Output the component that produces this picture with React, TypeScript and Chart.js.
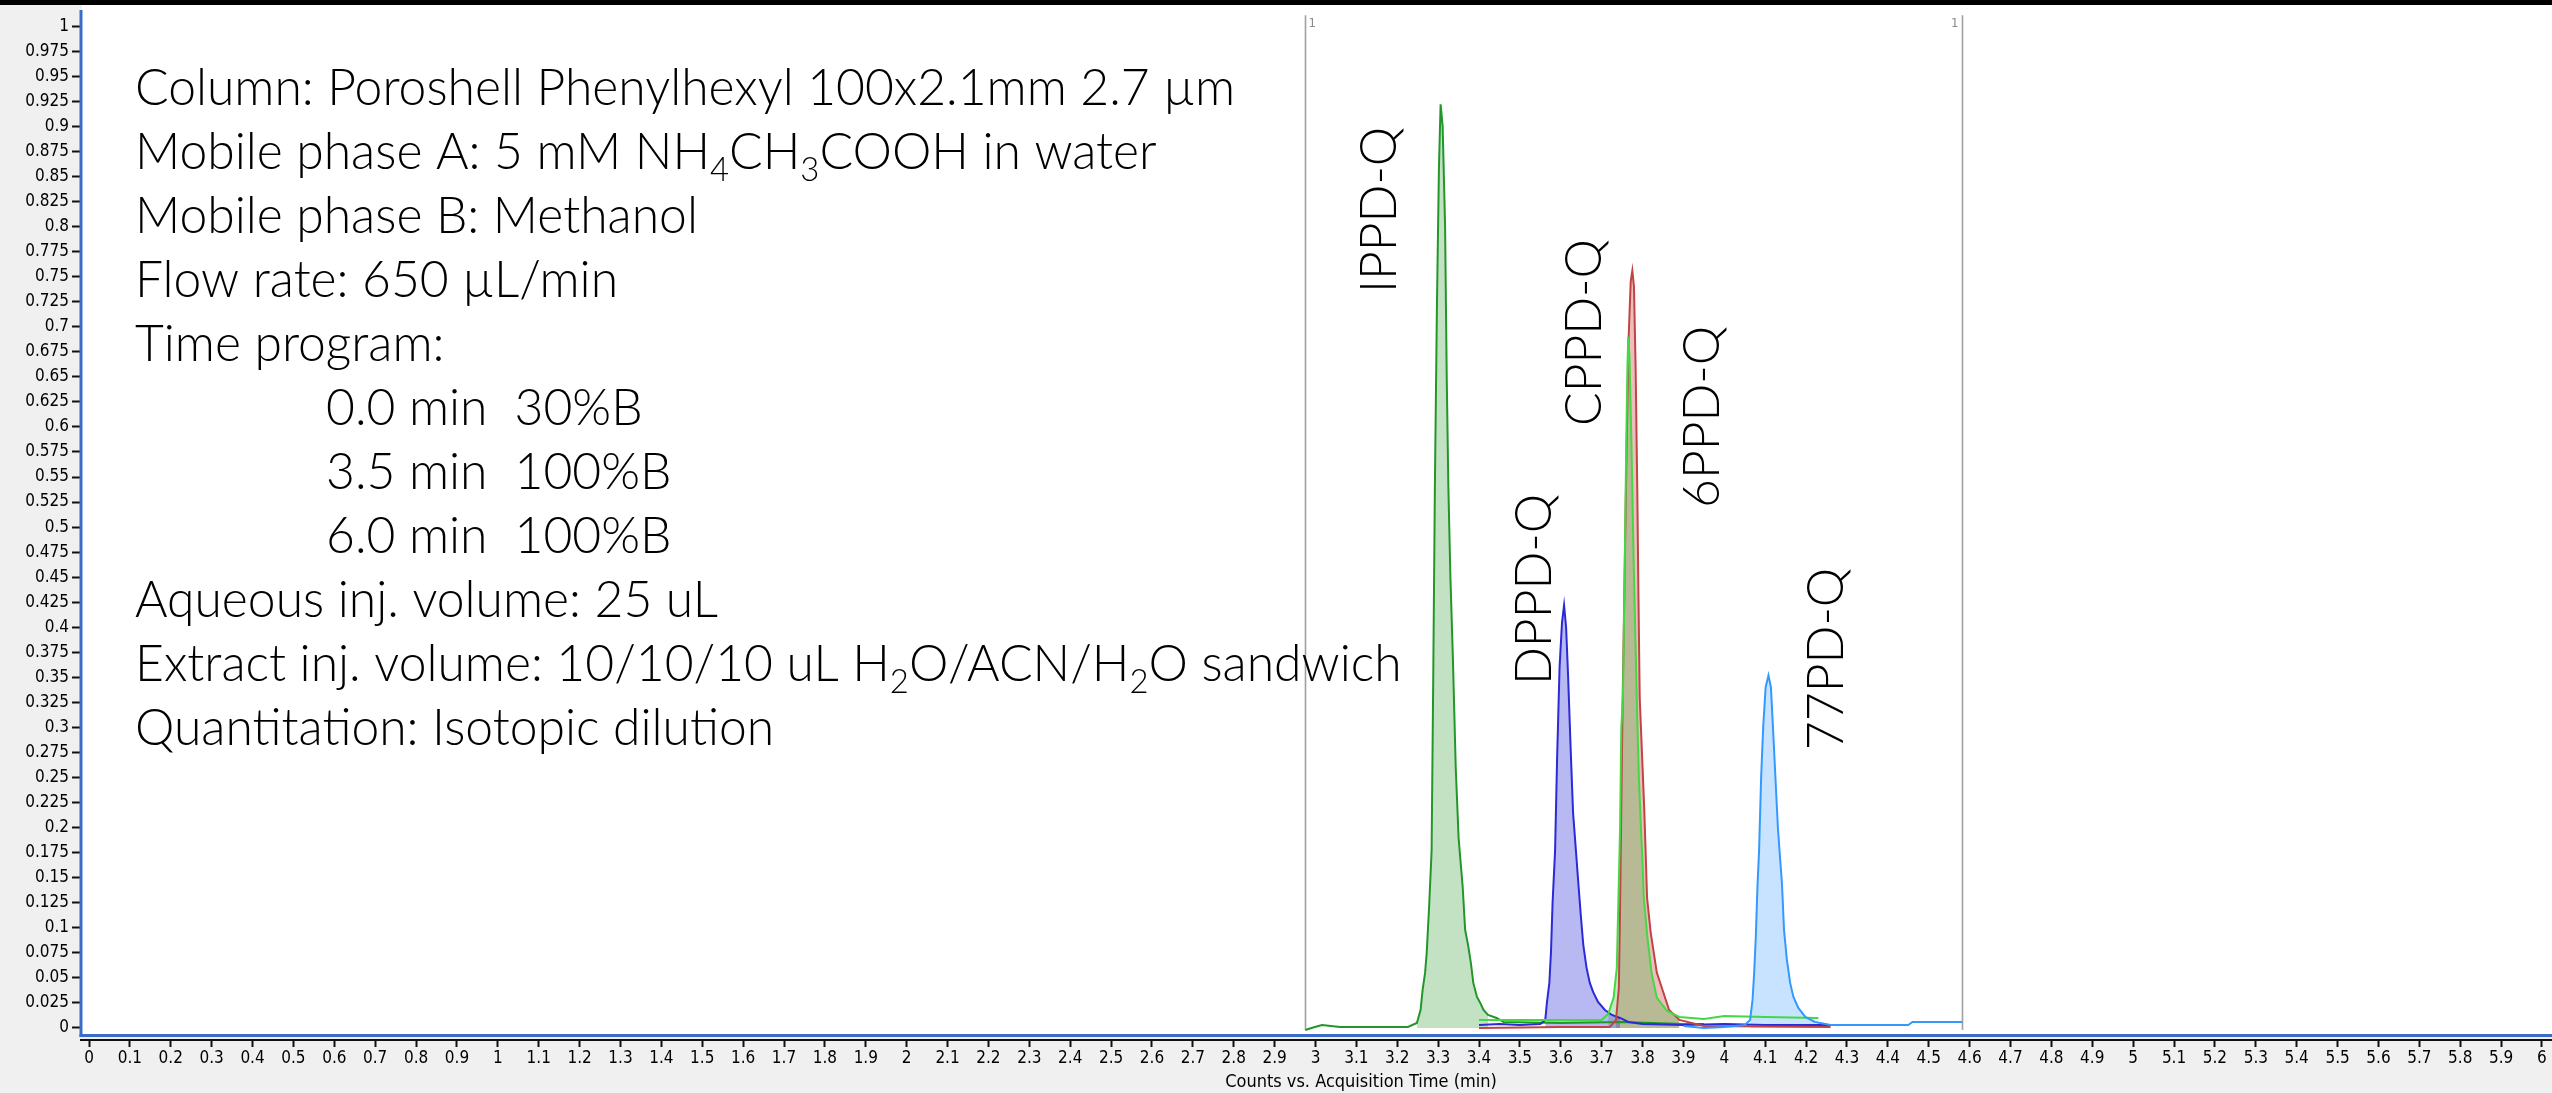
import React, { useEffect, useRef } from 'react';
import { Chart, registerables } from 'chart.js';

Chart.register(...registerables);

// ---------- data (retention time in min, normalised counts) ----------
const IPPD_T = [2.975, 2.99, 3.016, 3.06, 3.226, 3.248, 3.257, 3.262, 3.268, 3.272, 3.278, 3.284, 3.288, 3.292, 3.297, 3.302, 3.306, 3.311, 3.317, 3.321, 3.325, 3.33, 3.336, 3.343, 3.35, 3.354, 3.36, 3.366, 3.374, 3.38, 3.386, 3.395, 3.403, 3.411, 3.422, 3.443, 3.46, 3.6, 3.75, 3.9, 3.95];
const IPPD_Y = [-0.002, 0.0, 0.003, 0.001, 0.001, 0.005, 0.018, 0.038, 0.055, 0.075, 0.122, 0.177, 0.35, 0.54, 0.72, 0.86, 0.922, 0.9, 0.8, 0.65, 0.54, 0.45, 0.37, 0.26, 0.19, 0.17, 0.141, 0.098, 0.081, 0.065, 0.045, 0.031, 0.025, 0.018, 0.013, 0.01, 0.006, 0.005, 0.006, 0.004, 0.004];

const DPPD_T = [3.4, 3.45, 3.5, 3.55, 3.562, 3.566, 3.572, 3.576, 3.58, 3.586, 3.591, 3.597, 3.603, 3.608, 3.613, 3.618, 3.624, 3.63, 3.637, 3.643, 3.649, 3.655, 3.663, 3.671, 3.679, 3.691, 3.708, 3.725, 3.745, 3.765, 3.8, 3.9, 4.0, 4.1, 4.27];
const DPPD_Y = [0.003, 0.004, 0.003, 0.004, 0.008, 0.025, 0.045, 0.076, 0.126, 0.177, 0.27, 0.36, 0.405, 0.422, 0.4, 0.35, 0.28, 0.215, 0.177, 0.144, 0.112, 0.083, 0.06, 0.045, 0.036, 0.026, 0.018, 0.013, 0.01, 0.006, 0.004, 0.003, 0.004, 0.003, 0.003];

const CPPD_T = [3.4, 3.55, 3.7, 3.716, 3.729, 3.737, 3.741, 3.745, 3.748, 3.752, 3.756, 3.76, 3.763, 3.765, 3.768, 3.773, 3.778, 3.783, 3.787, 3.791, 3.796, 3.8, 3.803, 3.812, 3.822, 3.835, 3.86, 3.89, 3.95, 4.0, 4.1, 4.23];
const CPPD_Y = [0.008, 0.008, 0.008, 0.014, 0.03, 0.06, 0.13, 0.2, 0.3, 0.33, 0.45, 0.58, 0.66, 0.69, 0.67, 0.58, 0.47, 0.38, 0.31, 0.25, 0.2, 0.165, 0.13, 0.09, 0.055, 0.03, 0.017, 0.011, 0.009, 0.012, 0.011, 0.01];

const SIXPPD_T = [3.4, 3.6, 3.72, 3.735, 3.742, 3.745, 3.748, 3.751, 3.756, 3.761, 3.766, 3.771, 3.775, 3.779, 3.783, 3.787, 3.79, 3.793, 3.799, 3.804, 3.808, 3.811, 3.82, 3.835, 3.865, 3.89, 3.95, 4.26];
const SIXPPD_Y = [0.0, 0.001, 0.001, 0.008, 0.04, 0.12, 0.22, 0.32, 0.45, 0.58, 0.69, 0.745, 0.756, 0.74, 0.66, 0.54, 0.43, 0.33, 0.27, 0.22, 0.17, 0.13, 0.095, 0.055, 0.018, 0.008, 0.002, 0.001];

const PD77_T = [3.9, 3.95, 4.0, 4.05, 4.063, 4.069, 4.073, 4.077, 4.081, 4.085, 4.09, 4.095, 4.101, 4.108, 4.114, 4.119, 4.125, 4.131, 4.135, 4.141, 4.146, 4.153, 4.161, 4.169, 4.181, 4.198, 4.222, 4.26, 4.45, 4.46, 4.582];
const PD77_Y = [0.002, 0.0, 0.001, 0.003, 0.008, 0.028, 0.055, 0.091, 0.141, 0.177, 0.25, 0.3, 0.34, 0.352, 0.34, 0.3, 0.25, 0.2, 0.177, 0.144, 0.098, 0.068, 0.045, 0.031, 0.02, 0.011, 0.006, 0.003, 0.003, 0.006, 0.006];

// integration windows (filled areas)
const IPPD_FILL = [3.245, 3.44];
const DPPD_FILL = [3.56, 3.75];
const CPPD_FILL = [3.71, 3.9];
const SIXPPD_FILL = [3.73, 3.9];
const PD77_FILL = [4.06, 4.24];

// time segment markers
const SEGMENT_MARKERS = [2.975, 4.582];
const SEGMENT_LABELS = ['1', '1'];

const X_TICKS = Array.from({ length: 61 }, (_, i) => i / 10);
const Y_TICKS = Array.from({ length: 41 }, (_, i) => i / 40);

const X_TITLE = 'Counts vs. Acquisition Time (min)';

const COMPOUNDS = ['IPPD-Q', 'DPPD-Q', 'CPPD-Q', '6PPD-Q', '77PD-Q'];

// annotation text (segments: [text, isSubscript])
const NOTE_LINES: [string, boolean][][] = [
  [['Column: Poroshell Phenylhexyl 100x2.1mm 2.7 µm', false]],
  [['Mobile phase A: 5 mM NH', false], ['4', true], ['CH', false], ['3', true], ['COOH in water', false]],
  [['Mobile phase B: Methanol', false]],
  [['Flow rate: 650 µL/min', false]],
  [['Time program:', false]],
  [['0.0 min  30%B', false]],
  [['3.5 min  100%B', false]],
  [['6.0 min  100%B', false]],
  [['Aqueous inj. volume: 25 uL', false]],
  [['Extract inj. volume: 10/10/10 uL H', false], ['2', true], ['O/ACN/H', false], ['2', true], ['O sandwich', false]],
  [['Quantitation: Isotopic dilution', false]],
];
const NOTE_INDENT = [0, 0, 0, 0, 0, 1, 1, 1, 0, 0, 0];

// ---------- layout / style ----------
const W = 2552;
const H = 1093;
const AXIS_FONT = "'DejaVu Sans Condensed', 'Liberation Sans Narrow', 'DejaVu Sans', sans-serif";
const NOTE_FONT_FAMILY = 'Lato, "Open Sans", sans-serif';
const NOTE_SIZE = 52;
const NOTE_X = 135;
const NOTE_INDENT_X = 326;
const NOTE_BASE_Y = 105;
const NOTE_STEP = 64;
const NOTE_REF_WIDTH = 1100;
const PEAK_LABEL_POS = [
  [1396, 293],
  [1551, 685],
  [1601, 426],
  [1719, 508],
  [1843, 750],
];
const BLUE = '#3a6cc8';

function pts(t: number[], y: number[]) {
  return t.map((x, i) => ({ x, y: y[i] }));
}
function ptsIn(t: number[], y: number[], r: number[]) {
  return pts(t, y).filter((p) => p.x >= r[0] && p.x <= r[1]);
}

function fmt(v: number, d: number) {
  return String(Number(v.toFixed(d)));
}

function drawRich(ctx: CanvasRenderingContext2D, segs: [string, boolean][], x: number, y: number, size: number, sx: number) {
  let cx = x;
  for (const [txt, sub] of segs) {
    const s = sub ? size * 0.66 : size;
    ctx.font = `300 ${s}px ${NOTE_FONT_FAMILY}`;
    const w = ctx.measureText(txt).width * sx;
    ctx.save();
    ctx.translate(cx, y + (sub ? 12 : 0));
    ctx.scale(sx, 1);
    ctx.fillText(txt, 0, 0);
    ctx.restore();
    cx += w;
  }
}

const decor = {
  id: 'decor',
  beforeDraw(chart: any) {
    const { ctx, chartArea } = chart;
    ctx.save();
    ctx.fillStyle = '#f0f0f0';
    ctx.fillRect(0, 0, W, H);
    ctx.fillStyle = '#000';
    ctx.fillRect(0, 0, W, 5);
    ctx.fillStyle = '#fff';
    ctx.fillRect(chartArea.left + 1, 5, W - chartArea.left - 1, chartArea.bottom - 6 - 5);
    ctx.restore();
  },
  beforeDatasetsDraw(chart: any) {
    const { ctx, chartArea, scales } = chart;
    const xs = scales.x;
    const ys = scales.y;
    ctx.save();
    ctx.strokeStyle = '#a0a0a0';
    ctx.lineWidth = 1.6;
    ctx.fillStyle = '#8a8a8a';
    ctx.font = `13px ${AXIS_FONT}`;
    ctx.textBaseline = 'top';
    SEGMENT_MARKERS.forEach((t, i) => {
      const px = Math.round(xs.getPixelForValue(t)) + 0.5;
      ctx.beginPath();
      ctx.moveTo(px, chartArea.top + 2);
      ctx.lineTo(px, ys.getPixelForValue(-0.002));
      ctx.stroke();
      if (i === 0) {
        ctx.textAlign = 'left';
        ctx.fillText(SEGMENT_LABELS[i], px + 3, chartArea.top + 4);
      } else {
        ctx.textAlign = 'right';
        ctx.fillText(SEGMENT_LABELS[i], px - 4, chartArea.top + 4);
      }
    });
    ctx.restore();
  },
  afterDraw(chart: any) {
    const { ctx, chartArea } = chart;
    ctx.save();
    // blue frame lines
    ctx.fillStyle = BLUE;
    ctx.fillRect(chartArea.left - 1.5, 10, 3, chartArea.bottom - 3 - 10);
    ctx.fillRect(chartArea.left - 1.5, chartArea.bottom - 6, W - chartArea.left + 1.5, 3);

    // axis title
    ctx.fillStyle = '#000';
    ctx.font = `18px ${AXIS_FONT}`;
    ctx.textAlign = 'center';
    ctx.textBaseline = 'middle';
    ctx.fillText(X_TITLE, 1361, 1082);

    // annotations
    ctx.font = `300 ${NOTE_SIZE}px ${NOTE_FONT_FAMILY}`;
    const mw = ctx.measureText(NOTE_LINES[0][0][0]).width;
    const sx = Math.max(0.7, Math.min(1.3, NOTE_REF_WIDTH / mw));
    ctx.textAlign = 'left';
    ctx.textBaseline = 'alphabetic';
    ctx.fillStyle = '#000';
    NOTE_LINES.forEach((segs, i) => {
      drawRich(ctx, segs, NOTE_INDENT[i] ? NOTE_INDENT_X : NOTE_X, NOTE_BASE_Y + NOTE_STEP * i, NOTE_SIZE, sx);
    });

    // rotated peak labels
    ctx.font = `300 ${NOTE_SIZE}px ${NOTE_FONT_FAMILY}`;
    COMPOUNDS.forEach((name, i) => {
      const [px, py] = PEAK_LABEL_POS[i];
      ctx.save();
      ctx.translate(px, py);
      ctx.rotate(-Math.PI / 2);
      ctx.scale(sx, 1);
      ctx.fillText(name, 0, 0);
      ctx.restore();
    });
    ctx.restore();
  },
};

export default function App() {
  const ref = useRef<HTMLCanvasElement>(null);
  useEffect(() => {
    document.body.style.margin = '0';
    const canvas = ref.current!;
    const line = (label: string, data: any[], color: string, order: number) => ({
      label,
      data,
      borderColor: color,
      borderWidth: 2,
      pointRadius: 0,
      fill: false,
      tension: 0,
      order,
    });
    const area = (label: string, data: any[], color: string, order: number) => ({
      label,
      data,
      borderColor: 'rgba(0,0,0,0)',
      borderWidth: 0,
      backgroundColor: color,
      pointRadius: 0,
      fill: 'origin',
      tension: 0,
      order,
    });
    const chart = new Chart(canvas, {
      type: 'line',
      data: {
        datasets: [
          line(COMPOUNDS[0], pts(IPPD_T, IPPD_Y), '#23962a', 4),
          line(COMPOUNDS[1], pts(DPPD_T, DPPD_Y), '#2a2ad6', 3),
          line(COMPOUNDS[2], pts(CPPD_T, CPPD_Y), '#44d844', 1),
          line(COMPOUNDS[3], pts(SIXPPD_T, SIXPPD_Y), '#c04444', 2),
          line(COMPOUNDS[4], pts(PD77_T, PD77_Y), '#3399ff', 0),
          area(COMPOUNDS[0] + ' area', ptsIn(IPPD_T, IPPD_Y, IPPD_FILL), 'rgba(40,150,40,0.28)', 20),
          area(COMPOUNDS[1] + ' area', ptsIn(DPPD_T, DPPD_Y, DPPD_FILL), 'rgba(40,40,220,0.33)', 21),
          area(COMPOUNDS[2] + ' area', ptsIn(CPPD_T, CPPD_Y, CPPD_FILL), 'rgba(60,180,60,0.3)', 22),
          area(COMPOUNDS[3] + ' area', ptsIn(SIXPPD_T, SIXPPD_Y, SIXPPD_FILL), 'rgba(200,40,40,0.3)', 23),
          area(COMPOUNDS[4] + ' area', ptsIn(PD77_T, PD77_Y, PD77_FILL), 'rgba(50,150,255,0.27)', 24),
        ],
      },
      options: {
        animation: false,
        responsive: false,
        maintainAspectRatio: false,
        devicePixelRatio: 1,
        events: [],
        layout: { padding: { top: 10, left: 0, right: 0, bottom: 0 } },
        plugins: { legend: { display: false }, tooltip: { enabled: false }, title: { display: false } },
        elements: { point: { radius: 0 }, line: { tension: 0 } },
        scales: {
          x: {
            type: 'linear',
            min: -0.0196,
            max: 6.0245,
            afterBuildTicks: (s: any) => {
              s.ticks = X_TICKS.map((v) => ({ value: v }));
            },
            afterFit: (s: any) => {
              s.height = 53;
            },
            ticks: {
              autoSkip: false,
              maxRotation: 0,
              minRotation: 0,
              color: '#000',
              padding: 1,
              font: { family: AXIS_FONT, size: 17 },
              callback: (v: any) => fmt(Number(v), 1),
            },
            grid: { drawOnChartArea: false, drawTicks: true, tickLength: 7, tickColor: '#111', tickWidth: 2 },
            border: { display: true, color: '#111', width: 2 },
          },
          y: {
            type: 'linear',
            min: -0.012,
            max: 1.013,
            afterBuildTicks: (s: any) => {
              s.ticks = Y_TICKS.map((v) => ({ value: v }));
            },
            afterFit: (s: any) => {
              s.width = 81;
            },
            ticks: {
              autoSkip: false,
              color: '#000',
              padding: 3,
              font: { family: AXIS_FONT, size: 17 },
              callback: (v: any) => fmt(Number(v), 3),
            },
            grid: { drawOnChartArea: false, drawTicks: true, tickLength: 9, tickColor: '#111', tickWidth: 2 },
            border: { display: false },
          },
        },
      },
      plugins: [decor],
    } as any);
    return () => chart.destroy();
  }, []);
  return (
    <div style={{ position: 'absolute', left: 0, top: 0, width: W, height: H, background: '#f0f0f0' }}>
      <canvas ref={ref} width={W} height={H} style={{ width: W, height: H, display: 'block' }} />
    </div>
  );
}
